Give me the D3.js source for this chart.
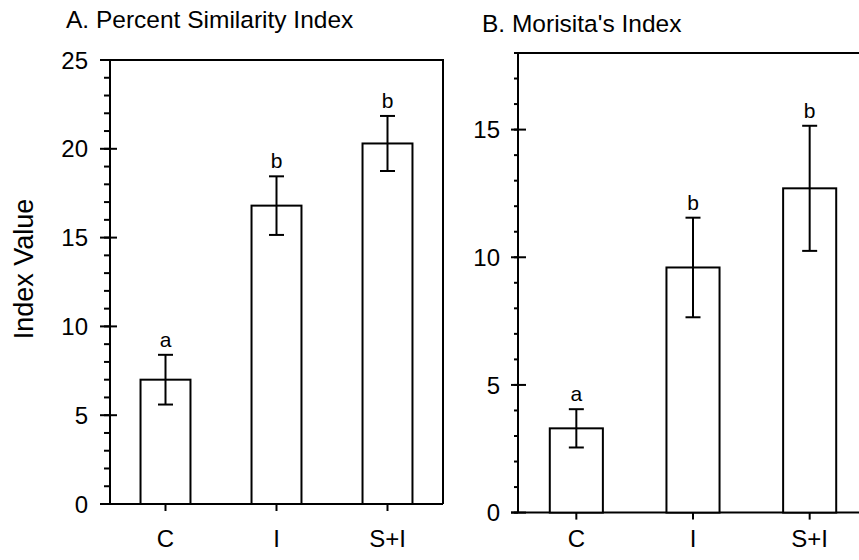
<!DOCTYPE html>
<html>
<head>
<meta charset="utf-8">
<title></title>
<script src="https://cdnjs.cloudflare.com/ajax/libs/d3/7.8.5/d3.min.js"></script>
<style>
  body { margin: 0; background: #fff; }
  text { font-family: "Liberation Sans", Arial, sans-serif; fill: #000; }
</style>
</head>
<body>
<div id="chart"></div>
<script>
    // data
    var categories = ["C", "I", "S+I"];

    var psiMeans   = [7.0, 16.8, 20.3];
    var psiErrors  = [1.4, 1.65, 1.55];
    var psiLetters = ["a", "b", "b"];
    var psiTicks   = [0, 5, 10, 15, 20, 25];

    var morMeans   = [3.3, 9.6, 12.7];
    var morErrors  = [0.75, 1.95, 2.45];
    var morLetters = ["a", "b", "b"];
    var morTicks   = [0, 5, 10, 15];

    var svg = d3.select("#chart").append("svg")
        .attr("width", 859)
        .attr("height", 560);

    function drawPanel(opt) {
        var g = svg.append("g");

        var x = d3.scaleBand().domain(categories)
            .range([opt.left, opt.right]).padding(0);
        var y = d3.scaleLinear().domain([0, opt.max])
            .range([opt.bottom, opt.top]);
        var barW = x.bandwidth() * opt.barFrac;

        // frame (top + right)
        g.append("path")
            .attr("d", "M" + opt.left + "," + y(opt.max) + "H" + opt.right + "V" + y(0))
            .attr("fill", "none").attr("stroke", "#000").attr("stroke-width", 2);

        // minor ticks every 1 unit
        g.selectAll(".minor").data(d3.range(0, opt.max + 1))
          .enter().append("line")
            .attr("x1", opt.left - opt.minorLen).attr("x2", opt.left)
            .attr("y1", function(d) { return y(d); })
            .attr("y2", function(d) { return y(d); })
            .attr("stroke", "#000").attr("stroke-width", 2);

        // major ticks cross the axis
        g.selectAll(".major").data(opt.ticks)
          .enter().append("line")
            .attr("x1", opt.left - opt.majorOut).attr("x2", opt.left + opt.majorIn)
            .attr("y1", function(d) { return y(d); })
            .attr("y2", function(d) { return y(d); })
            .attr("stroke", "#000").attr("stroke-width", 2);

        g.selectAll(".tlab").data(opt.ticks)
          .enter().append("text")
            .attr("x", opt.left - opt.labelGap)
            .attr("y", function(d) { return y(d); })
            .attr("dy", "0.36em")
            .attr("text-anchor", "end")
            .attr("font-size", 24)
            .text(function(d) { return d; });

        // axes lines
        g.append("line")
            .attr("x1", opt.left).attr("x2", opt.left)
            .attr("y1", y(opt.max)).attr("y2", y(0))
            .attr("stroke", "#000").attr("stroke-width", 2);
        g.append("line")
            .attr("x1", opt.left - opt.majorOut).attr("x2", opt.right)
            .attr("y1", y(0)).attr("y2", y(0))
            .attr("stroke", "#000").attr("stroke-width", 2);

        // x ticks + labels
        g.selectAll(".xt").data(categories)
          .enter().append("line")
            .attr("x1", function(d) { return x(d) + x.bandwidth() / 2; })
            .attr("x2", function(d) { return x(d) + x.bandwidth() / 2; })
            .attr("y1", y(0)).attr("y2", y(0) + 7)
            .attr("stroke", "#000").attr("stroke-width", 2);
        g.selectAll(".xl").data(categories)
          .enter().append("text")
            .attr("x", function(d) { return x(d) + x.bandwidth() / 2; })
            .attr("y", 547)
            .attr("text-anchor", "middle")
            .attr("font-size", 24)
            .text(function(d) { return d; });

        // bars
        g.selectAll(".bar").data(opt.means)
          .enter().append("rect")
            .attr("x", function(d, i) { return x(categories[i]) + (x.bandwidth() - barW) / 2; })
            .attr("y", function(d) { return y(d); })
            .attr("width", barW)
            .attr("height", function(d) { return y(0) - y(d); })
            .attr("fill", "#fff").attr("stroke", "#000").attr("stroke-width", 2);

        // error bars
        opt.means.forEach(function(m, i) {
            var cx = x(categories[i]) + x.bandwidth() / 2;
            var hi = y(m + opt.errors[i]), lo = y(m - opt.errors[i]);
            g.append("line").attr("x1", cx).attr("x2", cx).attr("y1", hi).attr("y2", lo)
                .attr("stroke", "#000").attr("stroke-width", 2);
            g.append("line").attr("x1", cx - 7.5).attr("x2", cx + 7.5).attr("y1", hi).attr("y2", hi)
                .attr("stroke", "#000").attr("stroke-width", 2);
            g.append("line").attr("x1", cx - 7.5).attr("x2", cx + 7.5).attr("y1", lo).attr("y2", lo)
                .attr("stroke", "#000").attr("stroke-width", 2);
            g.append("text")
                .attr("x", cx).attr("y", hi - 8)
                .attr("text-anchor", "middle")
                .attr("font-size", 21)
                .text(opt.letters[i]);
        });

        g.append("text")
            .attr("x", opt.titleX).attr("y", opt.titleY)
            .attr("font-size", 24.5)
            .text(opt.title);
    }

    drawPanel({
        title: "A. Percent Similarity Index", titleX: 66, titleY: 28,
        left: 110, right: 443, top: 60, bottom: 504, max: 25,
        ticks: psiTicks, means: psiMeans, errors: psiErrors, letters: psiLetters,
        barFrac: 0.45, majorOut: 10, majorIn: 7, minorLen: 6, labelGap: 22
    });

    drawPanel({
        title: "B. Morisita's Index", titleX: 482, titleY: 32,
        left: 518, right: 868, top: 53, bottom: 512.6, max: 18,
        ticks: morTicks, means: morMeans, errors: morErrors, letters: morLetters,
        barFrac: 0.455, majorOut: 7, majorIn: 8, minorLen: 4, labelGap: 18
    });

    svg.append("text")
        .attr("transform", "translate(33,269) rotate(-90)")
        .attr("text-anchor", "middle")
        .attr("font-size", 27)
        .text("Index Value");
</script>
</body>
</html>
